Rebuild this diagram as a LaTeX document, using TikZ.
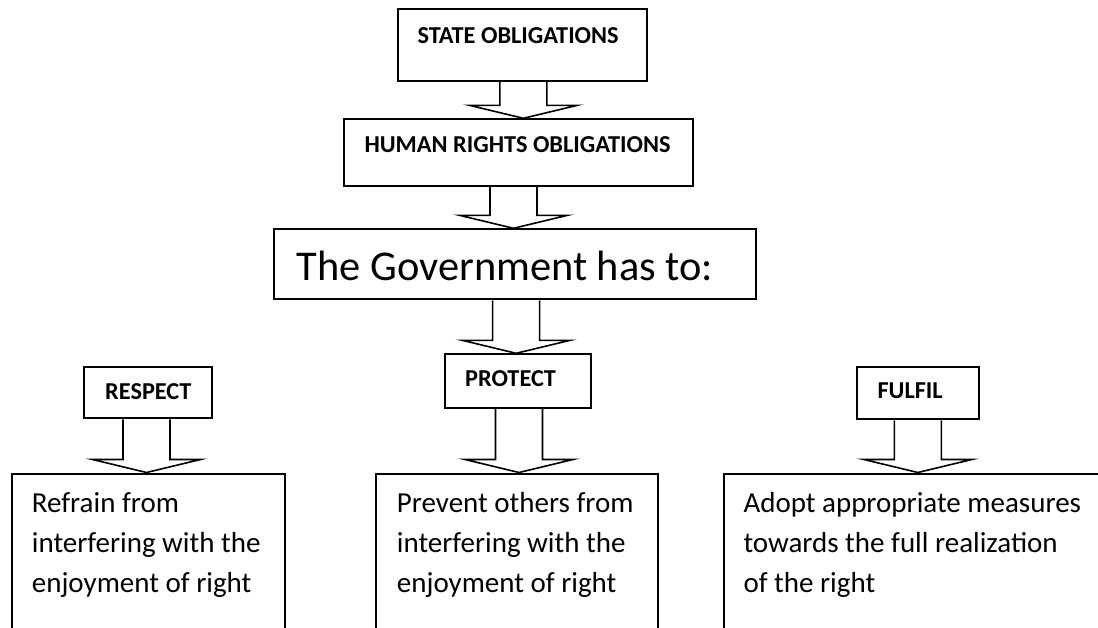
\documentclass[tikz,border=0pt]{standalone}
\usepackage{fontspec}
\setmainfont{Carlito}
\usetikzlibrary{calc}
\begin{document}
\begin{tikzpicture}[x=1pt,y=-1pt,
  box/.style={draw, line width=2pt, inner sep=0pt, anchor=north west},
  lbl/.style={font=\bfseries\fontsize{24.3}{29}\selectfont, anchor=base west, inner sep=0pt},
  big/.style={font=\fontsize{42.4}{50}\selectfont, anchor=base west, inner sep=0pt},
  body/.style={font=\fontsize{29}{40}\selectfont, anchor=base west, inner sep=0pt, align=left},
  blockarr/.style={draw, line width=1.6pt, line join=miter,
    to path={let \p1=(\tikztostart), \p2=(\tikztotarget) in
      (\x1-23.5pt,\y1) -- (\x1-23.5pt,\y2+13pt) -- (\x1-54pt,\y2+13pt) -- (\x1,\y2)
      -- (\x1+54pt,\y2+13pt) -- (\x1+23.5pt,\y2+13pt) -- (\x1+23.5pt,\y1)}}
]
\path[use as bounding box, fill=white] (0,0) rectangle (1098,627);

% boxes
\node[box, minimum width=249.3pt, minimum height=71.7pt] (so) at (396.7,8.3) {};
\node[box, minimum width=349pt, minimum height=66.7pt] (hr) at (342.7,118.3) {};
\node[box, minimum width=481.7pt, minimum height=70pt] (gov) at (273.3,228.3) {};
\node[box, minimum width=127.4pt, minimum height=51.3pt] (respect) at (83.3,366) {};
\node[box, minimum width=146pt, minimum height=53.4pt] (protect) at (444,353.3) {};
\node[box, minimum width=121.7pt, minimum height=52.3pt] (fulfil) at (856,366) {};
\node[box, minimum width=273.6pt, minimum height=200pt] (refrain) at (10.7,472.5) {};
\node[box, minimum width=282.2pt, minimum height=200pt] (prevent) at (375,472.5) {};
\node[box, minimum width=420pt, minimum height=200pt] (adopt) at (722.5,472.5) {};

% texts
\node[lbl] (so-t) at (417.3,43.3) {STATE OBLIGATIONS};
\node[lbl] (hr-t) at (364.3,152.7) {HUMAN RIGHTS OBLIGATIONS};
\node[big] (gov-t) at (296.7,280) {The Government has to:};
\node[lbl] (respect-t) at (105,399.3) {RESPECT};
\node[lbl] (protect-t) at (465,386.7) {PROTECT};
\node[lbl] (fulfil-t) at (877.3,398.3) {FULFIL};
\node[body] (refrain-t) at (31.7,592.3) {Refrain from\\interfering with the\\enjoyment of right};
\node[body] (prevent-t) at (396.7,592.3) {Prevent others from\\interfering with the\\enjoyment of right};
\node[body] (adopt-t) at (743.3,592.3) {Adopt appropriate measures\\towards the full realization\\of the right};

% block arrows
\draw[blockarr] ($(so.south)+(1,0)$) to (hr.north);
\draw[blockarr] ($(hr.south)+(-4.7,0)$) to (gov.north);
\draw[blockarr] ($(gov.south)+(1,0)$) to (protect.north);
\draw[blockarr] ($(respect.south)+(-1.5,0)$) to (refrain.north);
\draw[blockarr] ($(protect.south)+(1,0)$) to (prevent.north);
\draw[blockarr] (fulfil.south) to (adopt.north);
\end{tikzpicture}
\end{document}
